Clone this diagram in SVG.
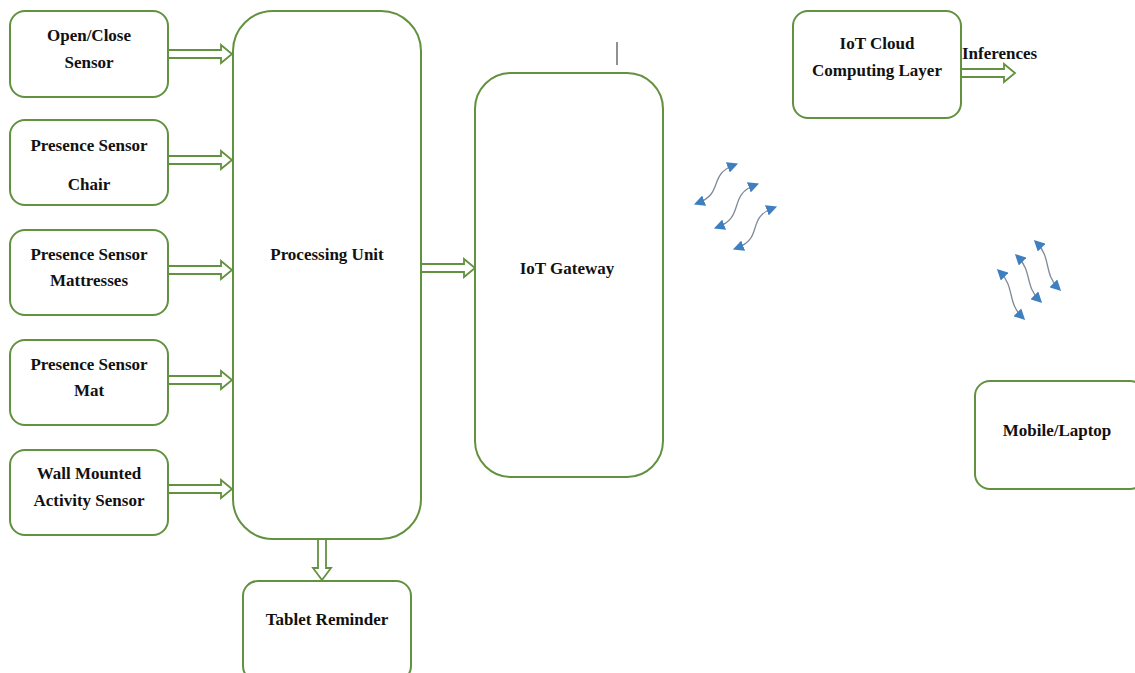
<svg xmlns="http://www.w3.org/2000/svg" width="1135" height="673" viewBox="0 0 1135 673">
<style>
.box{fill:#fff;stroke:#62913f;stroke-width:2}
.arr{fill:#fff;stroke:#62913f;stroke-width:1.8;stroke-linejoin:miter}
.t{font-family:"Liberation Serif","Times New Roman",serif;font-weight:bold;font-size:17px;fill:#111;text-anchor:middle}
.w{fill:none;stroke:#7f8b99;stroke-width:1.3;marker-start:url(#tri);marker-end:url(#tri)}
</style>
<defs>
<marker id="tri" viewBox="0 0 10 10" refX="6" refY="5" markerWidth="11" markerHeight="11" orient="auto-start-reverse" markerUnits="userSpaceOnUse">
<path d="M0,0 L10,5 L0,10 Z" fill="#3f7fbf"/>
</marker>
</defs>
<rect width="1135" height="673" fill="#fff"/>
<g id="connectors">
<path class="arr" d="M168,50 H221 V45 L232,54 L221,63 V58 H168 Z"/>
<path class="arr" d="M168,156 H221 V151 L232,160 L221,169 V164 H168 Z"/>
<path class="arr" d="M168,266 H221 V261 L232,270 L221,279 V274 H168 Z"/>
<path class="arr" d="M168,376 H221 V371 L232,380 L221,389 V384 H168 Z"/>
<path class="arr" d="M168,485 H221 V480 L232,489 L221,498 V493 H168 Z"/>
<path class="arr" d="M421,264 H464 V259 L475,268 L464,277 V272 H421 Z"/>
<path class="arr" d="M961,69 H1004 V64 L1015,73 L1004,82 V77 H961 Z"/>
<path class="arr" d="M318,539 V568 H313 L322,580 L331,568 H326 V539 Z"/>
<line x1="617" y1="42" x2="617" y2="65" stroke="#222" stroke-width="1"/>
<path class="w" d="M734,165 C708,175 724,193 698,203"/>
<path class="w" d="M755,185 C728,195 745,217 718,227"/>
<path class="w" d="M773,208 C746,218 764,238 737,248"/>
<path class="w" d="M1000,272 C1015,287 1007,302 1022,317"/>
<path class="w" d="M1018,257 C1032,271 1025,286 1039,300"/>
<path class="w" d="M1037,243 C1051,257 1044,274 1058,288"/>
</g>
<g id="open-close">
<rect class="box" x="10" y="11" width="158" height="86" rx="15"/>
<text class="t" x="89" y="41">Open/Close</text>
<text class="t" x="89" y="68">Sensor</text>
</g>
<g id="presence-chair">
<rect class="box" x="10" y="120" width="158" height="85" rx="15"/>
<text class="t" x="89" y="151">Presence Sensor</text>
<text class="t" x="89" y="190">Chair</text>
</g>
<g id="presence-mattresses">
<rect class="box" x="10" y="230" width="158" height="85" rx="15"/>
<text class="t" x="89" y="260">Presence Sensor</text>
<text class="t" x="89" y="286">Mattresses</text>
</g>
<g id="presence-mat">
<rect class="box" x="10" y="340" width="158" height="85" rx="15"/>
<text class="t" x="89" y="370">Presence Sensor</text>
<text class="t" x="89" y="396">Mat</text>
</g>
<g id="wall-mounted">
<rect class="box" x="10" y="450" width="158" height="85" rx="15"/>
<text class="t" x="89" y="479">Wall Mounted</text>
<text class="t" x="89" y="506">Activity Sensor</text>
</g>
<g id="processing-unit">
<rect class="box" x="233" y="11" width="188" height="528" rx="40"/>
<text class="t" x="327" y="260">Processing Unit</text>
</g>
<g id="iot-gateway">
<rect class="box" x="475" y="73" width="188" height="404" rx="36"/>
<text class="t" x="567" y="274">IoT Gateway</text>
</g>
<g id="iot-cloud">
<rect class="box" x="793" y="11" width="168" height="107" rx="15"/>
<text class="t" x="877" y="49">IoT Cloud</text>
<text class="t" x="877" y="76">Computing Layer</text>
</g>
<g id="inferences-label">
<text class="t" x="962" y="59" style="text-anchor:start">Inferences</text>
</g>
<g id="mobile-laptop">
<rect class="box" x="975" y="381" width="170" height="108" rx="15"/>
<text class="t" x="1057" y="436">Mobile/Laptop</text>
</g>
<g id="tablet-reminder">
<rect class="box" x="243" y="581" width="168" height="100" rx="15"/>
<text class="t" x="327" y="625">Tablet Reminder</text>
</g>
</svg>
